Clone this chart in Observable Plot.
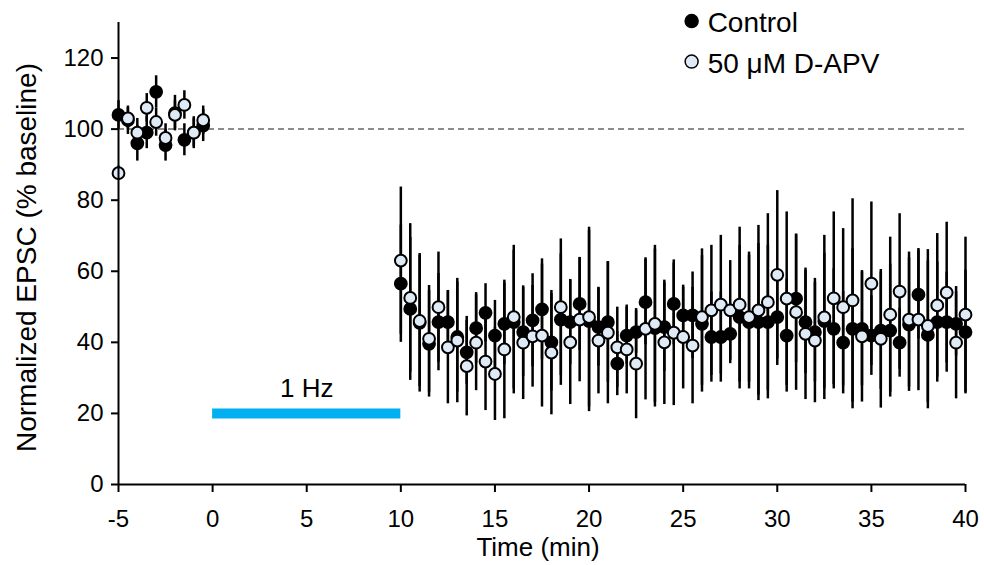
<!DOCTYPE html>
<html><head><meta charset="utf-8">
<script src="https://cdn.jsdelivr.net/npm/d3@7"></script>
<script src="https://cdn.jsdelivr.net/npm/@observablehq/plot@0.6"></script>
<style>body{margin:0;background:#fff} svg{display:block}</style>
</head><body><div id="chart"></div>
<script>
// Time points (min)
const times = [-5, -4.5, -4, -3.5, -3, -2.5, -2, -1.5, -1, -0.5,
  10, 10.5, 11, 11.5, 12, 12.5, 13, 13.5, 14, 14.5,
  15, 15.5, 16, 16.5, 17, 17.5, 18, 18.5, 19, 19.5,
  20, 20.5, 21, 21.5, 22, 22.5, 23, 23.5, 24, 24.5,
  25, 25.5, 26, 26.5, 27, 27.5, 28, 28.5, 29, 29.5,
  30, 30.5, 31, 31.5, 32, 32.5, 33, 33.5, 34, 34.5,
  35, 35.5, 36, 36.5, 37, 37.5, 38, 38.5, 39, 39.5, 40];

// Control (% baseline) and SEM
const control = [104, 102.5, 96, 99, 110.5, 95.5, 104.5, 97, 99, 101,
  56.5, 49.4, 45.5, 39.6, 45.7, 45.7, 41.5, 37.2, 44, 48.3,
  41.9, 45.2, 45.7, 42.9, 46.2, 49.3, 40, 46.4, 45.7, 50.8,
  46, 44.3, 45.7, 34, 41.9, 42.9, 51.3, 44, 44.3, 50.8,
  47.6, 47.6, 45.2, 41.5, 41.5, 42.4, 47.1, 45.7, 45.7, 45.7,
  47.1, 41.9, 52.3, 45.7, 42.9, 46, 43.8, 39.9, 43.8, 43.8,
  41.9, 43.3, 43.3, 39.9, 45, 53.4, 42.1, 45.7, 45.7, 45.2, 42.9];
const controlErr = [4, 4, 5, 4.5, 4.5, 4.5, 5, 4.5, 4.5, 4.5,
  16.5, 20.1, 19.5, 15, 13.7, 8.9, 15.5, 9, 10, 8.2,
  9.9, 11.5, 20.2, 12.5, 13.1, 14.2, 13.7, 18.5, 12, 13,
  25.5, 11, 17, 9, 8, 6, 12, 22.2, 12.5, 11.5,
  7.9, 12.2, 19.2, 12.7, 12.7, 8.4, 20.2, 18.8, 22.1, 21.6,
  13.6, 15.9, 18, 14.5, 14, 19.1, 16.9, 14.4, 22.5, 16,
  11.2, 16.5, 18.7, 9.7, 18.8, 12.5, 20.8, 16.9, 14.1, 9, 17.4];

// 50 µM D-APV (% baseline) and SEM
const apv = [87.6, 103, 99, 106, 102, 97.5, 104, 106.8, 99, 102.5,
  63, 52.5, 46, 41, 49.9, 38.6, 40.5, 33.3, 39.9, 34.6,
  31.1, 38, 47.1, 39.9, 41.7, 41.9, 37.1, 49.9, 40, 46.4,
  47.1, 40.5, 42.7, 38.6, 38, 34, 43.8, 45.2, 40, 42.7,
  41.5, 39.1, 47.1, 49, 50.6, 49, 50.6, 47.1, 49, 51.3,
  59, 52.3, 48.5, 42.4, 40.5, 47, 52.4, 49.9, 51.8, 41.7,
  56.5, 41, 47.8, 54.3, 46.4, 46.4, 44.6, 50.4, 54, 39.9, 47.8];
const apvErr = [2, 3, 4, 4, 4, 4, 4, 4, 4, 4,
  20.7, 20.9, 18.5, 15, 15.5, 15.9, 17.5, 14, 13.5, 13.8,
  13.1, 19.5, 20.2, 16, 14.3, 20.1, 17.5, 19.2, 17.5, 17.5,
  25.3, 15, 20, 11.3, 12.5, 15.5, 20, 22.1, 17.5, 20.5,
  14.6, 16.4, 19.2, 18.3, 19.5, 14, 21.8, 18.3, 23.9, 24.9,
  23.7, 24.4, 22, 18.5, 17.5, 23.1, 24.3, 22.1, 28.6, 18.5,
  23, 19.5, 21.8, 21.9, 19, 20, 21.5, 20.2, 19.8, 15.8, 21.8];

const seriesNames = ["Control", "50 μM D-APV"];
const xTicks = [-5, 0, 5, 10, 15, 20, 25, 30, 35, 40];
const yTicks = [0, 20, 40, 60, 80, 100, 120];
const baselineLevel = [100];
const stimulus = [{label: "1 Hz", start: 0, end: 10, level: 20}];

const rows = times.flatMap((t, i) => [
  {t, series: seriesNames[0], v: control[i], e: controlErr[i]},
  {t, series: seriesNames[1], v: apv[i], e: apvErr[i]}
]);
const ctrlRows = rows.filter(d => d.series === seriesNames[0]);
const apvRows = rows.filter(d => d.series === seriesNames[1]);

const legendX = 25.45, legendY = [130.4, 119];
const legendRows = seriesNames.map((s, i) => ({s, i}));
const fills = ["#000000", "#deebf7"];

const font = "'Liberation Sans', Arial, Helvetica, sans-serif";

const chart = Plot.plot({
  width: 984, height: 565,
  marginLeft: 118, marginRight: 19, marginTop: 22, marginBottom: 81,
  style: {fontFamily: font, fontSize: "24px", color: "#000", background: "#fff", overflow: "visible"},
  x: {domain: [-5, 40]},
  y: {domain: [0, 130]},
  marks: [
    Plot.ruleY(baselineLevel, {x1: -5, x2: 40, stroke: "#8c8c8c", strokeWidth: 2, strokeDasharray: "6,4"}),
    Plot.ruleY(stimulus, {y: "level", x1: "start", x2: "end", stroke: "#00b0f0", strokeWidth: 10}),
    Plot.text(stimulus, {x: d => (d.start + d.end) / 2, y: "level", text: "label", dy: -25, fontSize: 26, fill: "#000"}),
    Plot.ruleX(rows, {x: "t", y1: d => d.v - d.e, y2: d => d.v + d.e, stroke: "#000", strokeWidth: 2.5}),
    Plot.dot(ctrlRows, {x: "t", y: "v", r: 5.9, fill: fills[0], stroke: "#000", strokeWidth: 2}),
    Plot.dot(apvRows, {x: "t", y: "v", r: 5.9, fill: fills[1], stroke: "#000", strokeWidth: 2}),
    Plot.axisX({ticks: xTicks, tickSize: 8, tickPadding: 17, tickFormat: d => String(d), label: null, strokeWidth: 2, fontSize: 24}),
    Plot.axisY({ticks: yTicks, tickSize: 7, tickPadding: 8, tickFormat: d => String(d), label: null, strokeWidth: 2, fontSize: 24}),
    Plot.ruleX([-5], {y1: 0, y2: 130, stroke: "#000", strokeWidth: 2}),
    Plot.ruleY([0], {x1: -5, x2: 40, stroke: "#000", strokeWidth: 2}),
    Plot.text(["Time (min)"], {frameAnchor: "bottom", dx: -4, dy: 71, fontSize: 26, fill: "#000"}),
    Plot.text(["Normalized EPSC (% baseline)"], {frameAnchor: "left", textAnchor: "middle", dx: -91, dy: 4, rotate: -90, fontSize: 28, fill: "#000"}),
    Plot.dot(legendRows, {x: () => legendX, y: d => legendY[d.i], r: 6.5, fill: d => fills[d.i], stroke: "#000", strokeWidth: 1.5}),
    Plot.text(legendRows, {x: () => legendX, y: d => legendY[d.i], text: "s", dx: 16, dy: 2, textAnchor: "start", fontSize: 28, fill: "#000"})
  ]
});
document.getElementById("chart").appendChild(chart);
</script>
</body></html>
